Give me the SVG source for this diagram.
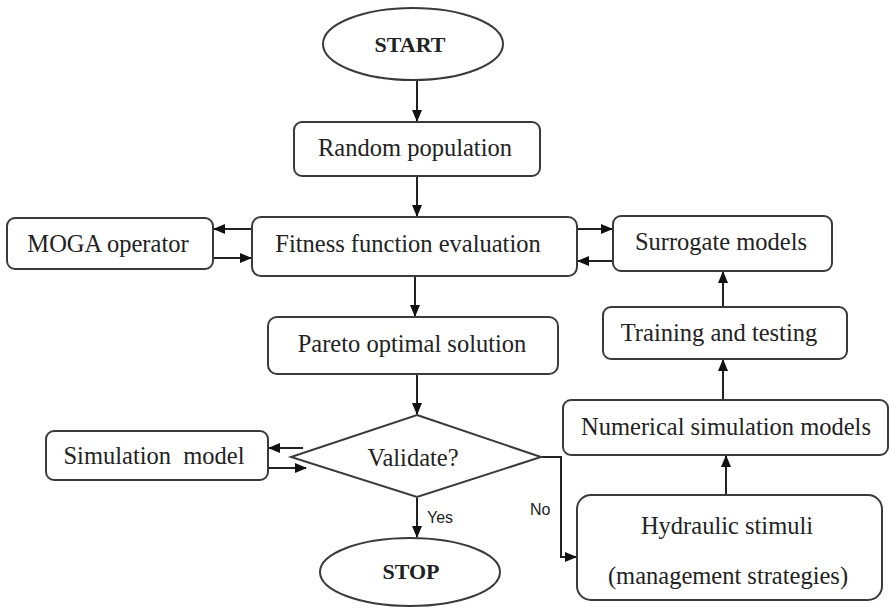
<svg xmlns="http://www.w3.org/2000/svg" width="891" height="608" viewBox="0 0 891 608">
<style>
.box{fill:#fff;stroke:#3a3a3a;stroke-width:2}
.t{font-family:"Liberation Serif","Times New Roman",serif;font-size:24.5px;fill:#222;text-anchor:middle}
.b{font-family:"Liberation Serif","Times New Roman",serif;font-size:22px;font-weight:bold;fill:#222;text-anchor:middle}
.s{font-family:"Liberation Sans",Arial,sans-serif;font-size:16px;fill:#222}
.c{fill:none;stroke:#222;stroke-width:2}
</style>
<defs>
<marker id="ah" markerUnits="userSpaceOnUse" markerWidth="12" markerHeight="12" viewBox="0 0 12 12" refX="11" refY="6" orient="auto">
<path d="M0,1 L12,6 L0,11 Z" fill="#111"/>
</marker>
</defs>
<rect width="891" height="608" fill="#fff"/>
<g id="connectors">
<line class="c" x1="417" y1="80" x2="417" y2="121" marker-end="url(#ah)"/>
<line class="c" x1="417" y1="177" x2="417" y2="216" marker-end="url(#ah)"/>
<line class="c" x1="252" y1="229" x2="214" y2="229" marker-end="url(#ah)"/>
<line class="c" x1="214" y1="258" x2="251" y2="258" marker-end="url(#ah)"/>
<line class="c" x1="578" y1="229" x2="612" y2="229" marker-end="url(#ah)"/>
<line class="c" x1="613" y1="261" x2="578" y2="261" marker-end="url(#ah)"/>
<line class="c" x1="415" y1="277" x2="415" y2="316" marker-end="url(#ah)"/>
<line class="c" x1="417" y1="374" x2="417" y2="414" marker-end="url(#ah)"/>
<line class="c" x1="303" y1="448" x2="269" y2="448" marker-end="url(#ah)"/>
<line class="c" x1="269" y1="468" x2="306" y2="468" marker-end="url(#ah)"/>
<line class="c" x1="417" y1="498" x2="417" y2="537" marker-end="url(#ah)"/>
<polyline class="c" points="541,457 561,457 561,557 576,557" marker-end="url(#ah)"/>
<line class="c" x1="726" y1="495" x2="726" y2="456" marker-end="url(#ah)"/>
<line class="c" x1="723" y1="400" x2="723" y2="360" marker-end="url(#ah)"/>
<line class="c" x1="723" y1="307" x2="723" y2="272" marker-end="url(#ah)"/>
<text class="s" x="427" y="523">Yes</text>
<text class="s" x="530" y="515">No</text>
</g>
<g id="start">
<ellipse class="box" cx="413" cy="44" rx="90" ry="36"/>
<text class="b" x="410" y="52">START</text>
</g>
<g id="random">
<rect class="box" x="294" y="122" width="246" height="54" rx="8"/>
<text class="t" x="415" y="156">Random population</text>
</g>
<g id="fitness">
<rect class="box" x="252" y="217" width="325" height="59" rx="9"/>
<text class="t" x="408" y="252">Fitness function evaluation</text>
</g>
<g id="moga">
<rect class="box" x="7" y="218" width="206" height="51" rx="8"/>
<text class="t" x="108" y="252">MOGA operator</text>
</g>
<g id="surrogate">
<rect class="box" x="613" y="216" width="219" height="55" rx="8"/>
<text class="t" x="721" y="250">Surrogate models</text>
</g>
<g id="pareto">
<rect class="box" x="268" y="317" width="290" height="57" rx="9"/>
<text class="t" x="412" y="352">Pareto optimal solution</text>
</g>
<g id="training">
<rect class="box" x="603" y="307" width="244" height="52" rx="8"/>
<text class="t" x="719" y="341">Training and testing</text>
</g>
<g id="numerical">
<rect class="box" x="563" y="400" width="325" height="55" rx="8"/>
<text class="t" x="726" y="435">Numerical simulation models</text>
</g>
<g id="validate">
<polygon class="box" points="417,415 541,457 417,497 291,457"/>
<text class="t" x="413" y="466">Validate?</text>
</g>
<g id="simulation">
<rect class="box" x="46" y="431" width="222" height="49" rx="8"/>
<text class="t" x="154" y="464" xml:space="preserve">Simulation  model</text>
</g>
<g id="stop">
<ellipse class="box" cx="410" cy="572" rx="90" ry="34"/>
<text class="b" x="411" y="579">STOP</text>
</g>
<g id="hydraulic">
<rect class="box" x="577" y="495" width="305" height="105" rx="14"/>
<text class="t" x="727" y="534">Hydraulic stimuli</text>
<text class="t" x="728" y="584">(management strategies)</text>
</g>
</svg>
